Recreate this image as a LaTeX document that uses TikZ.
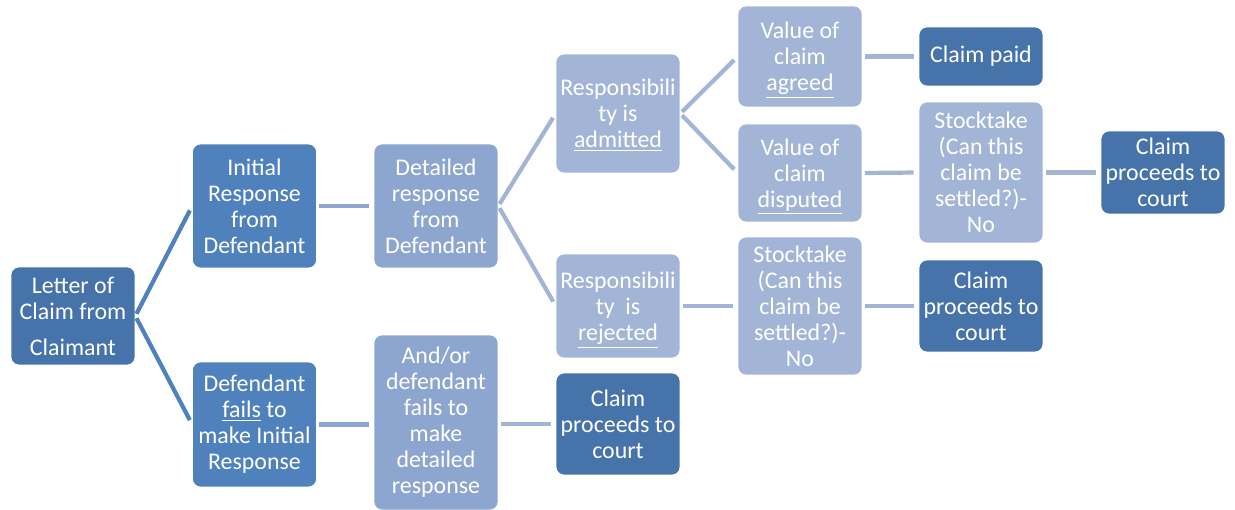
\documentclass[tikz,border=0pt]{standalone}
\usepackage{fontspec}
\setmainfont{Carlito}
\definecolor{darkblue}{RGB}{70,115,170}
\definecolor{midblue}{RGB}{79,129,189}
\definecolor{paleblue}{RGB}{141,166,207}
\definecolor{lightblue}{RGB}{163,181,214}
\newcommand{\uword}[1]{\smash{\underline{#1}}}

\begin{document}
\begin{tikzpicture}[x=0.02cm, y=-0.02cm,
  box/.style={rectangle, rounded corners=0.16cm, draw=white, thin, text=white, align=center,
    minimum width=2.48cm, inner xsep=1pt, inner ysep=2pt, font=\fontsize{13.6}{14.8}\selectfont},
  darkbox/.style={box, fill=darkblue},
  midbox/.style={box, fill=midblue},
  palebox/.style={box, fill=paleblue},
  lightbox/.style={box, fill=lightblue},
  link/.style={line width=2.4pt, shorten <=0.05cm, shorten >=0.1cm},
  linkA/.style={link, draw=midblue},
  linkB/.style={link, draw=paleblue},
  linkC/.style={link, draw=lightblue}]
\useasboundingbox (0,0) rectangle (1235,510);

% column 1 and 2
\node[darkbox, minimum height=1.96cm] (letter) at (73,316) {Letter of\\Claim from\\[0.2cm]Claimant};
\node[midbox, minimum height=2.48cm] (init) at (254.5,206) {Initial\\Response\\from\\Defendant};
\node[midbox, minimum height=2.5cm] (nores) at (254.5,424.5) {Defendant\\\uword{fails} to\\make Initial\\Response};

% column 3
\node[palebox, minimum height=2.48cm] (detail) at (436,206) {Detailed\\response\\from\\Defendant};
\node[palebox, minimum height=3.5cm] (nodetail) at (436,422.5) {And/or\\defendant\\fails to\\make\\detailed\\response};

% column 4
\node[lightbox, minimum height=2.38cm] (admit) at (618,113.5) {Responsibili\\ty is\\\uword{admitted}};
\node[lightbox, minimum height=2.08cm] (reject) at (618,306) {Responsibili\\ty\ \ is\\\uword{rejected}};
\node[darkbox, minimum height=2.04cm] (court1) at (618,424) {Claim\\proceeds to\\court};

% column 5
\node[lightbox, minimum height=2.02cm] (agreed) at (800,56.5) {Value of\\claim\\\uword{agreed}};
\node[lightbox, minimum height=1.96cm] (disputed) at (800,173) {Value of\\claim\\\uword{disputed}};
\node[lightbox, minimum height=2.76cm] (stock1) at (800,306) {Stocktake\\(Can this\\claim be\\settled?)-\\No};

% column 6 and 7
\node[darkbox, minimum height=1.18cm] (paid) at (981,56.5) {Claim paid};
\node[lightbox, minimum height=2.82cm] (stock2) at (981,172.5) {Stocktake\\(Can this\\claim be\\settled?)-\\No};
\node[darkbox, minimum height=1.84cm] (court2) at (981,306) {Claim\\proceeds to\\court};
\node[darkbox, minimum height=1.66cm] (court3) at (1163,172.5) {Claim\\proceeds to\\court};

% connectors
\draw[linkA] (letter.east) -- (init.west);
\draw[linkA] (letter.east) -- (nores.west);
\draw[linkB] (init.east) -- (detail.west);
\draw[linkB] (nores.east) -- (nores.east -| nodetail.west);
\draw[linkC] (detail.east) -- (admit.west);
\draw[linkC] (detail.east) -- (reject.west);
\draw[linkC] (nodetail.east |- court1.west) -- (court1.west);
\draw[linkC] (admit.east) -- (agreed.west);
\draw[linkC] (admit.east) -- (disputed.west);
\draw[linkC] (reject.east) -- (stock1.west);
\draw[linkC] (agreed.east) -- (paid.west);
\draw[linkC] (disputed.east) -- (stock2.west);
\draw[linkC] (stock1.east) -- (court2.west);
\draw[linkC] (stock2.east) -- (court3.west);
\end{tikzpicture}
\end{document}
